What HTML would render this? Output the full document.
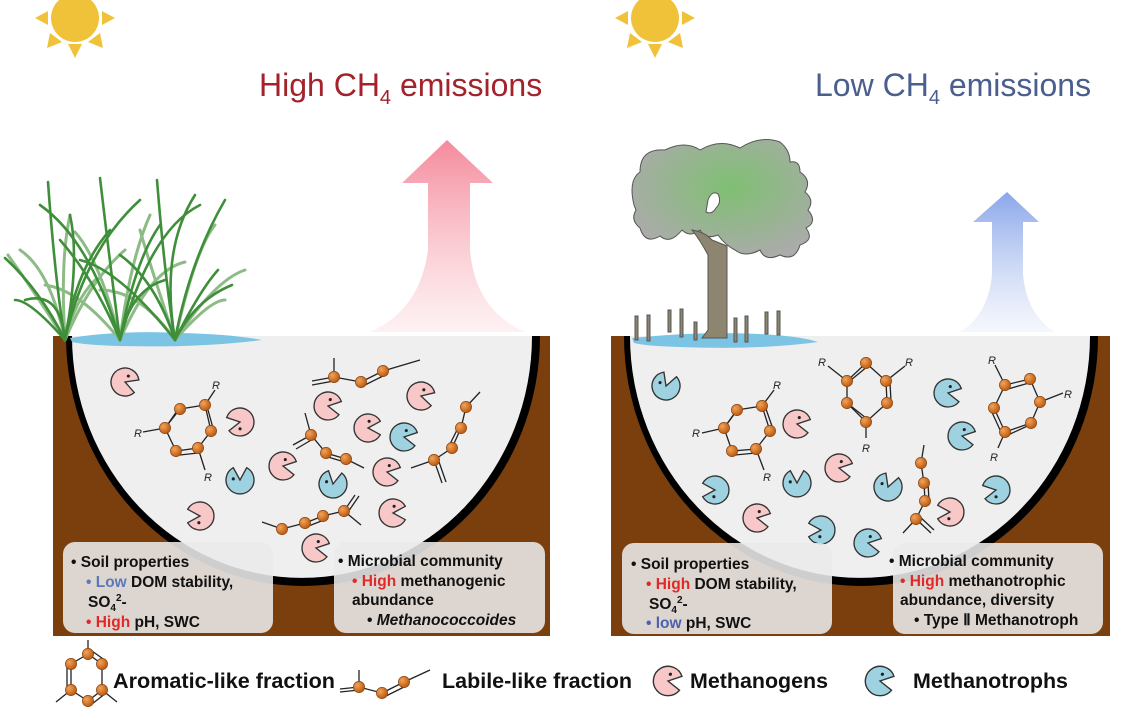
<!DOCTYPE html>
<html><head><meta charset="utf-8"><style>
html,body{margin:0;padding:0;background:#fff;}
svg{display:block;}
text{font-family:"Liberation Sans",Arial,sans-serif;}
.bt{font-size:15.5px;font-weight:bold;fill:#111;}
.lg{font-size:21px;font-weight:bold;fill:#111;}
</style></head><body>
<svg width="1121" height="720" viewBox="0 0 1121 720" xmlns="http://www.w3.org/2000/svg">
<defs>
<radialGradient id="bg" cx="0.35" cy="0.35" r="0.7"><stop offset="0" stop-color="#f3a35a"/><stop offset="1" stop-color="#b8570f"/></radialGradient>
<linearGradient id="pa" x1="0" y1="0" x2="0" y2="1"><stop offset="0" stop-color="#f48a9c"/><stop offset="1" stop-color="#fde8ea" stop-opacity="0.6"/></linearGradient>
<linearGradient id="ba" x1="0" y1="0" x2="0" y2="1"><stop offset="0" stop-color="#8aa6ea"/><stop offset="1" stop-color="#eef2fb" stop-opacity="0.6"/></linearGradient>
<radialGradient id="tg" cx="0.55" cy="0.4" r="0.6"><stop offset="0" stop-color="#7fbf72"/><stop offset="1" stop-color="#a9aca8"/></radialGradient>
<g id="b"><circle r="5.6" fill="url(#bg)" stroke="#8a4510" stroke-width="0.7"/></g>
<g id="pp"><g transform="scale(1.12)"><path d="M0,0 L11,-6 A12.5,12.5 0 1,0 11,6 Z" fill="#f8c8c8" stroke="#333" stroke-width="1.2"/><circle cx="1" cy="-6" r="1.4" fill="#222"/></g></g>
<g id="bp"><g transform="scale(1.12)"><path d="M0,0 L11,-6 A12.5,12.5 0 1,0 11,6 Z" fill="#9fd2e0" stroke="#333" stroke-width="1.2"/><circle cx="1" cy="-6" r="1.4" fill="#222"/></g></g>
</defs>

<!-- suns -->
<g fill="#f0c23a">
<circle cx="75" cy="18" r="24"/>
<polygon points="75,58 68,44 82,44"/><polygon points="35,18 48,11 48,25"/><polygon points="115,18 102,11 102,25"/>
<polygon points="47,48 50,33 62,42"/><polygon points="103,48 100,33 88,42"/>
<circle cx="655" cy="18" r="24"/>
<polygon points="655,58 648,44 662,44"/><polygon points="615,18 628,11 628,25"/><polygon points="695,18 682,11 682,25"/>
<polygon points="627,48 630,33 642,42"/><polygon points="683,48 680,33 668,42"/>
</g>

<!-- titles -->
<text x="259" y="96" font-size="32" fill="#a3222c">High CH<tspan font-size="20" dy="8">4</tspan><tspan dy="-8"> emissions</tspan></text>
<text x="815" y="96" font-size="32" fill="#4a5f8e">Low CH<tspan font-size="20" dy="8">4</tspan><tspan dy="-8"> emissions</tspan></text>

<!-- arrows -->
<path d="M447,140 L493,183 L470,183 L470,250 Q475,310 525,332 L370,332 Q420,310 428,250 L428,183 L402,183 Z" fill="url(#pa)"/>
<path d="M1007,192 L1039,222 L1023,222 L1023,275 Q1027,315 1055,332 L960,332 Q988,315 992,275 L992,222 L973,222 Z" fill="url(#ba)"/>

<!-- soil blocks -->
<rect x="53" y="336" width="497" height="300" fill="#7b3f0e"/>
<rect x="611" y="336" width="499" height="300" fill="#7b3f0e"/>
<path d="M66,336 A237,250 0 0 0 540,336 Z" fill="#000"/>
<path d="M72,336 A230,242 0 0 0 532,336 Z" fill="#efefef"/>
<path d="M624,336 A237,250 0 0 0 1098,336 Z" fill="#000"/>
<path d="M630,336 A230,242 0 0 0 1090,336 Z" fill="#efefef"/>

<!-- water -->
<path d="M70,338 Q120,330 180,333 Q230,334 262,340 Q200,348 120,346 Q85,345 72,342 Z" fill="#7cc4e4"/>
<path d="M632,338 Q700,331 760,334 Q800,336 818,342 Q760,350 680,347 Q645,346 634,343 Z" fill="#7cc4e4"/>

<!-- grass -->
<g fill="none" stroke-linecap="round">
<g stroke="#8dbb85" stroke-width="3">
<path d="M65,340 Q50,270 20,250"/><path d="M65,340 Q90,280 125,250"/><path d="M120,340 Q100,260 75,232"/><path d="M120,340 Q150,270 185,262"/><path d="M175,340 Q150,265 140,230"/><path d="M175,340 Q210,300 225,300"/><path d="M65,340 Q75,300 95,280"/>
<path d="M65,340 Q40,300 8,255"/><path d="M120,340 Q80,290 45,285"/><path d="M175,340 Q140,290 100,290"/><path d="M120,340 Q130,260 150,215"/><path d="M175,340 Q195,250 215,225"/><path d="M65,340 Q60,260 70,215"/><path d="M175,340 Q215,280 245,270"/>
</g>
<g stroke="#3f8f3a" stroke-width="2.6">
<path d="M65,340 Q55,280 48,182"/><path d="M65,340 Q75,270 110,230"/><path d="M65,340 Q40,290 5,258"/><path d="M65,340 Q60,290 25,300"/><path d="M65,340 Q80,260 70,215"/>
<path d="M120,340 Q112,280 100,178"/><path d="M120,340 Q135,260 160,225"/><path d="M120,340 Q95,280 60,240"/><path d="M120,340 Q130,290 165,280"/>
<path d="M175,340 Q165,280 157,180"/><path d="M175,340 Q190,260 225,200"/><path d="M175,340 Q155,280 120,255"/><path d="M175,340 Q195,300 232,285"/><path d="M175,340 Q200,290 218,270"/>
<path d="M65,340 Q85,250 140,200"/><path d="M120,340 Q150,230 200,205"/><path d="M175,340 Q160,250 195,195"/><path d="M120,340 Q90,240 40,205"/><path d="M65,340 Q30,300 15,300"/><path d="M175,340 Q120,270 80,260"/>
</g>
</g>

<!-- tree -->
<g stroke="#555" stroke-width="1">
<g fill="#8d8570">
<rect x="635" y="316" width="3" height="24"/><rect x="647" y="315" width="3" height="26"/><rect x="668" y="310" width="3" height="22"/><rect x="680" y="309" width="3" height="28"/><rect x="694" y="322" width="3" height="18"/>
<rect x="734" y="318" width="3" height="24"/><rect x="745" y="316" width="3" height="26"/><rect x="765" y="312" width="3" height="22"/><rect x="777" y="311" width="3" height="24"/>
</g>
<path d="M634,205 Q628,180 640,172 Q640,148 665,150 Q685,140 700,150 Q720,138 740,148 Q760,135 780,142 Q790,150 790,162 Q800,160 800,172 Q812,180 805,192 Q815,200 808,210 Q818,222 806,228 Q815,240 800,245 Q795,262 780,255 Q765,262 760,250 Q745,258 735,250 Q725,245 718,235 Q705,240 700,230 Q690,238 682,230 Q670,245 660,236 Q645,245 640,228 Q630,220 636,210 Z" fill="url(#tg)"/>
<path d="M692,230 Q705,232 712,240 L727,246 L727,338 L702,338 L708,330 L708,255 Q700,240 692,230 Z" fill="#8d8570"/>
<path d="M708,200 Q712,190 718,194 Q722,202 716,208 Q712,215 706,212 Z" fill="#fff"/>
</g>

<!-- left molecules -->
<g stroke="#222" stroke-width="1.3" fill="none">
<polygon points="180,409 205,405 211,431 198,448 176,451 165,428"/>
<line x1="168" y1="424" x2="177" y2="411"/><line x1="208" y1="410" x2="213" y2="428"/><line x1="180" y1="455" x2="198" y2="453"/>
<line x1="205" y1="405" x2="215" y2="390"/><line x1="165" y1="428" x2="143" y2="432"/><line x1="198" y1="448" x2="205" y2="470"/>
<polyline points="312,381 334,377 361,382 383,371 420,360"/><line x1="312" y1="385" x2="334" y2="381"/><line x1="334" y1="377" x2="334" y2="358"/><line x1="363" y1="386" x2="385" y2="375"/>
<polyline points="293,445 311,435 326,453 346,459 364,468"/><line x1="296" y1="449" x2="313" y2="439"/><line x1="311" y1="435" x2="305" y2="413"/><line x1="328" y1="457" x2="348" y2="463"/>
<polyline points="480,392 466,407 461,428 452,448 434,460 411,468"/><line x1="434" y1="460" x2="442" y2="483"/><line x1="438" y1="459" x2="446" y2="482"/><line x1="457" y1="430" x2="448" y2="448"/>
<polyline points="262,522 282,529 305,523 323,516 344,511 361,525"/><line x1="344" y1="511" x2="355" y2="495"/><line x1="348" y1="512" x2="359" y2="496"/><line x1="306" y1="527" x2="324" y2="520"/>
</g>
<g font-size="11" font-style="italic" fill="#222"><text x="212" y="389">R</text><text x="134" y="437">R</text><text x="204" y="481">R</text></g>
<use href="#b" x="180" y="409"/><use href="#b" x="205" y="405"/><use href="#b" x="211" y="431"/><use href="#b" x="198" y="448"/><use href="#b" x="176" y="451"/><use href="#b" x="165" y="428"/>
<use href="#b" x="334" y="377"/><use href="#b" x="361" y="382"/><use href="#b" x="383" y="371"/>
<use href="#b" x="311" y="435"/><use href="#b" x="326" y="453"/><use href="#b" x="346" y="459"/>
<use href="#b" x="466" y="407"/><use href="#b" x="461" y="428"/><use href="#b" x="452" y="448"/><use href="#b" x="434" y="460"/>
<use href="#b" x="282" y="529"/><use href="#b" x="305" y="523"/><use href="#b" x="323" y="516"/><use href="#b" x="344" y="511"/>

<!-- left pacmen -->
<use href="#pp" transform="translate(125,382) rotate(20)"/>
<use href="#pp" transform="translate(240,422) rotate(170)"/>
<use href="#pp" transform="translate(283,466) rotate(10)"/>
<use href="#pp" transform="translate(328,406) rotate(10)"/>
<use href="#pp" transform="translate(368,428) rotate(0)"/>
<use href="#pp" transform="translate(387,472) rotate(10)"/>
<use href="#pp" transform="translate(421,396) rotate(15)"/>
<use href="#pp" transform="translate(393,513) rotate(0)"/>
<use href="#pp" transform="translate(200,516) rotate(180)"/>
<use href="#pp" transform="translate(316,548) rotate(10)"/>
<use href="#bp" transform="translate(240,480) rotate(-90)"/>
<use href="#bp" transform="translate(333,484) rotate(-80)"/>
<use href="#bp" transform="translate(404,437) rotate(10)"/>

<!-- right molecules -->
<g stroke="#222" stroke-width="1.3" fill="none">
<polygon points="737,410 762,406 770,431 756,449 732,451 724,428"/>
<line x1="727" y1="424" x2="735" y2="413"/><line x1="766" y1="409" x2="773" y2="429"/><line x1="735" y1="455" x2="756" y2="453"/>
<line x1="762" y1="406" x2="774" y2="390"/><line x1="724" y1="428" x2="702" y2="433"/><line x1="756" y1="449" x2="764" y2="470"/>
<polygon points="866,363 886,381 887,403 866,422 847,403 847,381"/>
<line x1="851" y1="380" x2="868" y2="366"/><line x1="890" y1="383" x2="891" y2="401"/><line x1="847" y1="403" x2="866" y2="418"/>
<line x1="847" y1="381" x2="828" y2="366"/><line x1="886" y1="381" x2="905" y2="366"/><line x1="866" y1="422" x2="866" y2="438"/>
<polygon points="1030,379 1040,402 1031,423 1005,432 994,408 1005,385"/>
<line x1="1008" y1="389" x2="1029" y2="383"/><line x1="1034" y1="423" x2="1008" y2="435"/><line x1="990" y1="408" x2="1001" y2="432"/>
<line x1="1005" y1="385" x2="995" y2="365"/><line x1="1040" y1="402" x2="1063" y2="393"/><line x1="1005" y1="432" x2="998" y2="448"/>
<polyline points="924,445 921,463 924,483 925,501 916,519 903,533"/><line x1="916" y1="519" x2="931" y2="533"/><line x1="919" y1="516" x2="934" y2="530"/><line x1="928" y1="484" x2="929" y2="500"/>
</g>
<g font-size="11" font-style="italic" fill="#222"><text x="773" y="389">R</text><text x="692" y="437">R</text><text x="763" y="481">R</text>
<text x="818" y="366">R</text><text x="905" y="366">R</text><text x="862" y="452">R</text>
<text x="988" y="364">R</text><text x="1064" y="398">R</text><text x="990" y="461">R</text></g>
<use href="#b" x="737" y="410"/><use href="#b" x="762" y="406"/><use href="#b" x="770" y="431"/><use href="#b" x="756" y="449"/><use href="#b" x="732" y="451"/><use href="#b" x="724" y="428"/>
<use href="#b" x="866" y="363"/><use href="#b" x="886" y="381"/><use href="#b" x="887" y="403"/><use href="#b" x="866" y="422"/><use href="#b" x="847" y="403"/><use href="#b" x="847" y="381"/>
<use href="#b" x="1030" y="379"/><use href="#b" x="1040" y="402"/><use href="#b" x="1031" y="423"/><use href="#b" x="1005" y="432"/><use href="#b" x="994" y="408"/><use href="#b" x="1005" y="385"/>
<use href="#b" x="921" y="463"/><use href="#b" x="924" y="483"/><use href="#b" x="925" y="501"/><use href="#b" x="916" y="519"/>

<!-- right pacmen -->
<use href="#bp" transform="translate(666,386) rotate(-70)"/>
<use href="#bp" transform="translate(715,490) rotate(180)"/>
<use href="#bp" transform="translate(797,483) rotate(-90)"/>
<use href="#bp" transform="translate(888,487) rotate(-70)"/>
<use href="#bp" transform="translate(821,530) rotate(180)"/>
<use href="#bp" transform="translate(868,543) rotate(10)"/>
<use href="#bp" transform="translate(948,393) rotate(10)"/>
<use href="#bp" transform="translate(962,436) rotate(10)"/>
<use href="#bp" transform="translate(996,490) rotate(170)"/>
<use href="#pp" transform="translate(797,424) rotate(10)"/>
<use href="#pp" transform="translate(757,518) rotate(10)"/>
<use href="#pp" transform="translate(839,468) rotate(10)"/>
<use href="#pp" transform="translate(950,512) rotate(180)"/>

<!-- info boxes -->
<g fill="#ebebeb" fill-opacity="0.88">
<rect x="63" y="542" width="210" height="91" rx="12"/>
<rect x="334" y="542" width="211" height="91" rx="12"/>
<rect x="622" y="543" width="210" height="91" rx="12"/>
<rect x="893" y="543" width="210" height="91" rx="12"/>
</g>
<g class="bt">
<text x="71" y="567">•  Soil properties</text>
<text x="86" y="587"><tspan fill="#5b79b8">•  Low</tspan> DOM stability,</text>
<text x="88" y="607">SO<tspan font-size="10" dy="4">4</tspan><tspan font-size="10" dy="-10">2</tspan><tspan dy="6">-</tspan></text>
<text x="86" y="627"><tspan fill="#e02a2a">•  High</tspan> pH, SWC</text>
<text x="338" y="566">•  Microbial community</text>
<text x="352" y="586"><tspan fill="#e02a2a">•  High</tspan> methanogenic</text>
<text x="352" y="605">abundance</text>
<text x="367" y="625">•  <tspan font-style="italic">Methanococcoides</tspan></text>
<text x="631" y="569">•  Soil properties</text>
<text x="646" y="589"><tspan fill="#e02a2a">•  High</tspan> DOM stability,</text>
<text x="649" y="609">SO<tspan font-size="10" dy="4">4</tspan><tspan font-size="10" dy="-10">2</tspan><tspan dy="6">-</tspan></text>
<text x="646" y="628"><tspan fill="#4a62b0">•  low</tspan> pH, SWC</text>
<text x="889" y="566">• Microbial community</text>
<text x="900" y="586"><tspan fill="#e02a2a">•  High</tspan> methanotrophic</text>
<text x="900" y="605">abundance, diversity</text>
<text x="914" y="625">•  Type Ⅱ Methanotroph</text>
</g>

<!-- legend -->
<g stroke="#222" stroke-width="1.3" fill="none">
<polygon points="88,654 102,664 102,690 88,701 71,690 71,664"/>
<line x1="88" y1="654" x2="88" y2="640"/><line x1="71" y1="690" x2="56" y2="702"/><line x1="102" y1="690" x2="117" y2="702"/>
<line x1="92" y1="651" x2="106" y2="661"/><line x1="67" y1="666" x2="67" y2="688"/><line x1="106" y1="693" x2="92" y2="704"/>
<polyline points="340,689 359,687 382,693 404,682 430,670"/><line x1="340" y1="692" x2="359" y2="690"/><line x1="359" y1="687" x2="359" y2="670"/><line x1="384" y1="697" x2="406" y2="686"/>
</g>
<use href="#b" x="88" y="654"/><use href="#b" x="102" y="664"/><use href="#b" x="102" y="690"/><use href="#b" x="88" y="701"/><use href="#b" x="71" y="690"/><use href="#b" x="71" y="664"/>
<use href="#b" x="359" y="687"/><use href="#b" x="382" y="693"/><use href="#b" x="404" y="682"/>
<text class="lg" x="113" y="688" textLength="222" lengthAdjust="spacingAndGlyphs">Aromatic-like fraction</text>
<text class="lg" x="442" y="688" textLength="190" lengthAdjust="spacingAndGlyphs">Labile-like fraction</text>
<use href="#pp" transform="translate(668,681) rotate(10) scale(1.05)"/>
<text class="lg" x="690" y="688" textLength="138" lengthAdjust="spacingAndGlyphs">Methanogens</text>
<use href="#bp" transform="translate(880,681) rotate(10) scale(1.05)"/>
<text class="lg" x="913" y="688" textLength="155" lengthAdjust="spacingAndGlyphs">Methanotrophs</text>
</svg>
</body></html>
